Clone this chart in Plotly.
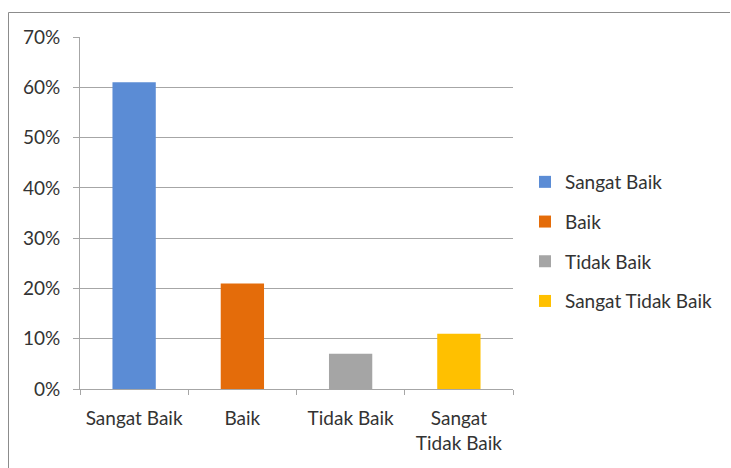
import plotly.graph_objects as go

categories = ["Sangat Baik", "Baik", "Tidak Baik", "Sangat Tidak Baik"]
tick_labels = ["Sangat Baik", "Baik", "Tidak Baik", "Sangat<br>Tidak Baik"]
values = [0.61, 0.21, 0.07, 0.11]
colors = ["#5B8CD5", "#E46C0A", "#A5A5A5", "#FFC000"]

FONT = "Lato"
TXT = "#333333"
FS = 19

fig = go.Figure()
for i, (c, v, col) in enumerate(zip(categories, values, colors)):
    fig.add_trace(go.Bar(
        x=[c], y=[v], name=c, marker=dict(color=col, line=dict(width=0)),
        width=0.4, legendgroup=f"g{i}",
    ))

W, H = 731, 468
L, R, T, B = 80, 218, 37, 79
pw, ph = W - L - R, H - T - B

def px2paper_x(px):
    return (px - L) / pw

def px2paper_y(py):
    return (H - B - py) / ph

fig.update_layout(
    width=W, height=H,
    margin=dict(l=L, r=R, t=T, b=B, pad=0),
    paper_bgcolor="white", plot_bgcolor="white",
    barmode="overlay",
    font=dict(family=FONT, size=FS, color=TXT),
    showlegend=True,
    legend=dict(
        x=px2paper_x(525), y=px2paper_y(163), xanchor="left", yanchor="top",
        font=dict(family=FONT, size=FS, color=TXT),
        tracegroupgap=12, traceorder="grouped",
        bgcolor="rgba(0,0,0,0)",
    ),
    xaxis=dict(
        type="category",
        tickmode="array", tickvals=categories, ticktext=tick_labels,
        tickson="boundaries", ticks="outside", ticklen=5, tickcolor="#A6A6A6",
        showline=True, linecolor="#A6A6A6", linewidth=1,
        showgrid=False, ticklabelstandoff=12,
        tickfont=dict(family=FONT, size=FS, color=TXT),
    ),
    yaxis=dict(
        range=[0, 0.7], dtick=0.1, tickformat=".0%",
        ticks="outside", ticklen=6, tickcolor="#A6A6A6",
        showline=True, linecolor="#A6A6A6", linewidth=1,
        showgrid=True, gridcolor="#A6A6A6", gridwidth=1,
        zeroline=False, ticklabelstandoff=9,
        tickfont=dict(family=FONT, size=FS, color=TXT),
    ),
)

# outer chart border (top and left edges visible)
fig.add_shape(type="line", xref="paper", yref="paper",
              x0=px2paper_x(8.5), x1=px2paper_x(730), y0=px2paper_y(12.5), y1=px2paper_y(12.5),
              line=dict(color="#8C8C8C", width=1))
fig.add_shape(type="line", xref="paper", yref="paper",
              x0=px2paper_x(8.5), x1=px2paper_x(8.5), y0=px2paper_y(12.5), y1=px2paper_y(470),
              line=dict(color="#8C8C8C", width=1))

fig.write_html("out.html")
